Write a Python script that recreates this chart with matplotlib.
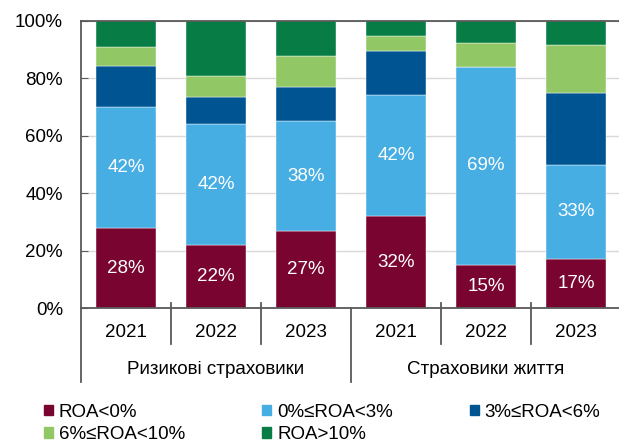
import numpy as np
import matplotlib
matplotlib.use("Agg")
import matplotlib.pyplot as plt
from matplotlib.patches import Patch

plt.rcParams["font.family"] = ["Liberation Sans", "DejaVu Sans"]
plt.rcParams["font.size"] = 13.5

# Data (share of insurers, %)
years = ["2021", "2022", "2023", "2021", "2022", "2023"]
groups = ["Ризикові страховики", "Страховики життя"]
roa_neg = [28, 22, 27, 32, 15, 17]
roa_0_3 = [42, 42, 38, 42, 69, 33]
roa_3_6 = [14.3, 9.6, 12.0, 15.3, 0, 25.0]
roa_6_10 = [6.6, 7.1, 10.8, 5.5, 8.3, 16.7]
roa_gt10 = [9.1, 19.3, 12.2, 5.2, 7.7, 8.3]

series = [roa_neg, roa_0_3, roa_3_6, roa_6_10, roa_gt10]
names = ["ROA<0%", "0%≤ROA<3%", "3%≤ROA<6%", "6%≤ROA<10%", "ROA>10%"]
colors = ["#7A0430", "#47AEE3", "#005492", "#92C766", "#077D45"]
labelled = [0, 1]  # series with value labels

fig = plt.figure(figsize=(6.19, 4.44), dpi=100)
ax = fig.add_axes([0.1309, 0.3056, 0.8724, 0.6478])

x = np.arange(len(years))
bottom = np.zeros(len(years))
for i, (vals, name, col) in enumerate(zip(series, names, colors)):
    vals = np.array(vals, dtype=float)
    ax.bar(x, vals, 0.667, bottom=bottom, color=col, label=name,
           edgecolor="white", linewidth=0.3, zorder=2)
    if i in labelled:
        for xi, b, v in zip(x, bottom, vals):
            ax.text(xi, b + v / 2, f"{v:.0f}%", ha="center", va="center",
                    color="white", zorder=3)
    bottom += vals

ax.set_xlim(-0.5, len(years) - 0.5)
ax.set_ylim(0, 100)
ax.set_yticks(np.arange(0, 101, 20))
ax.set_yticklabels([f"{v}%" for v in range(0, 101, 20)])
ax.yaxis.grid(True, color="#D9D9D9", linewidth=1, zorder=0)
ax.set_axisbelow(True)

ax.set_xticks(x)
ax.set_xticklabels(years)
ax.tick_params(axis="x", length=0, pad=11)
ax.tick_params(axis="y", direction="in", length=5, color="#595959", pad=13)

for s in ["left", "bottom", "top"]:
    ax.spines[s].set_color("#595959")
    ax.spines[s].set_linewidth(1.3)
ax.spines["right"].set_visible(False)

# category separators below the axis
trans = ax.get_xaxis_transform()
for b in [0.5, 1.5, 3.5, 4.5]:
    ax.plot([b, b], [0.02, -0.124], transform=trans, color="#595959",
            linewidth=1.3, clip_on=False)
for b in [-0.5, 2.5, 5.5]:
    ax.plot([b, b], [0.0, -0.256], transform=trans, color="#595959",
            linewidth=1.3, clip_on=False)
for gi, g in enumerate(groups):
    ax.text(1 + 3 * gi, -0.211, g, transform=trans, ha="center", va="center")

# legend, filled row by row
handles = [Patch(color=c) for c in colors]
order = [0, 3, 1, 4, 2]
fig.legend([handles[i] for i in order], [names[i] for i in order],
           ncol=3, loc="upper left", bbox_to_anchor=(0.071, 0.091),
           frameon=False, handlelength=0.48, handleheight=0.48,
           handletextpad=0.32, columnspacing=4.1, labelspacing=0.3,
           borderpad=0, borderaxespad=0)

fig.savefig("out.png", dpi=100)
